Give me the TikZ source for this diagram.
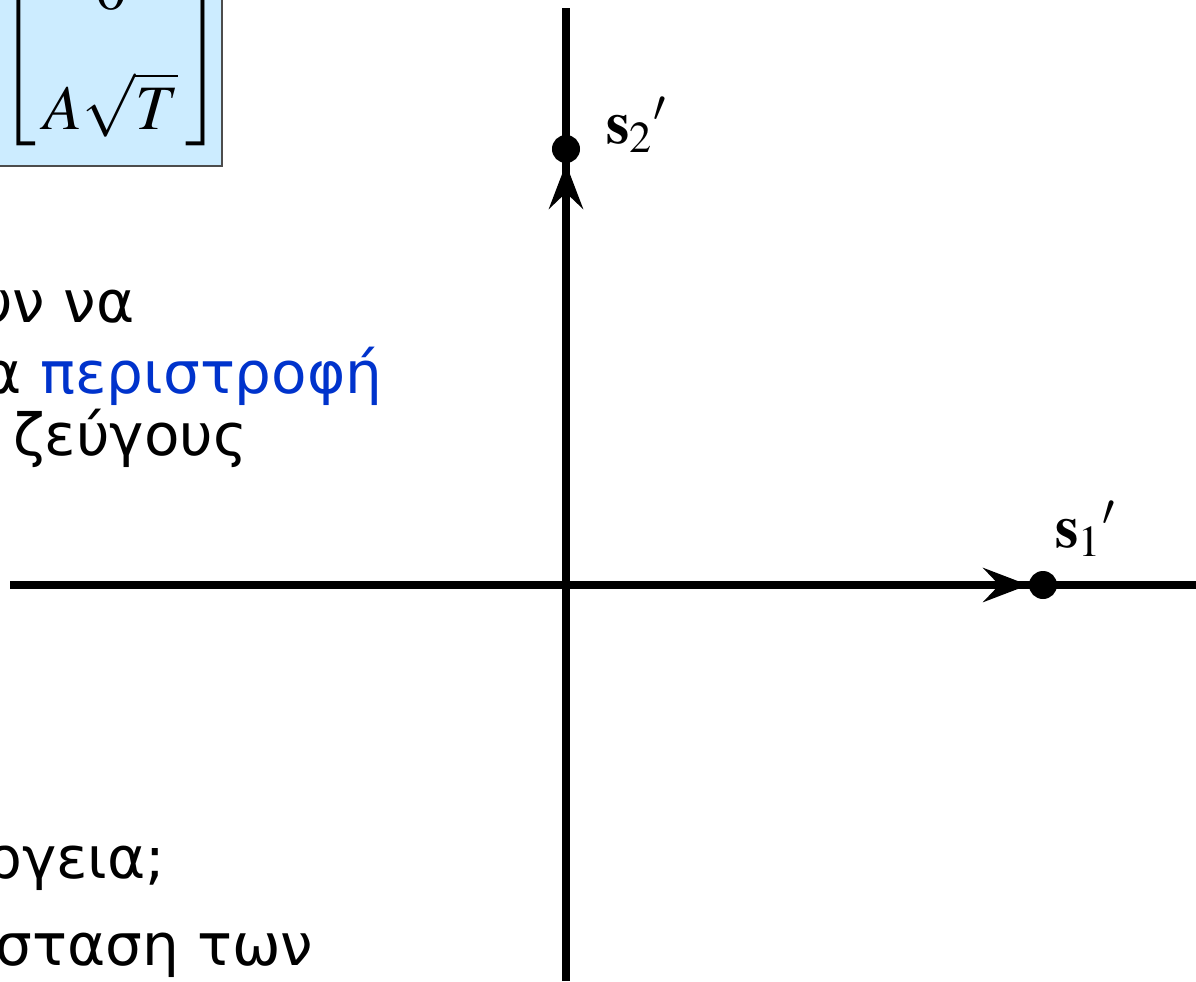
\documentclass[tikz,border=0pt]{standalone}
\usepackage{mathptmx}
\usepackage[no-math]{fontspec}
\newfontfamily\greekfont{DejaVu Sans}
\usepackage{xcolor}
\definecolor{boxblue}{RGB}{204,236,255}
\definecolor{rotblue}{RGB}{0,51,204}
\usepackage{tikz}
\usetikzlibrary{arrows.meta,positioning}

\begin{document}
\begin{tikzpicture}[
    x=0.01cm, y=-0.01cm,
    axis/.style={line width=2pt},
    vec/.style={line width=2pt, -{Stealth[length=0.45cm, width=0.34cm, inset=0.16cm]}},
    dot/.style={circle, fill=black, inner sep=0pt, minimum size=0.28cm},
    lbl/.style={inner sep=0pt, anchor=base west, font=\fontsize{17}{20}\selectfont},
    txt/.style={inner sep=0pt, anchor=base east, font=\greekfont\fontsize{16.5}{20}\selectfont},
    matbox/.style={rectangle, draw=black!70, line width=0.6pt, fill=boxblue, minimum width=2.6cm, minimum height=1.9cm, anchor=south east},
]
\useasboundingbox (0,0) rectangle (1196,981);
\clip (0,0) rectangle (1196,981);

% Signal vector box (cut by the frame)
\node[matbox] (vecbox) at (223,167) {};
\node[inner sep=0pt, anchor=south, font=\fontsize{18}{24}\selectfont] (mat) at (111,152)
    {\setlength\arraycolsep{2pt}$\left[\begin{array}{c}0\\[10pt]A\sqrt{T}\\[-1pt]\end{array}\right]$};

% Text lines (cut at the left)
\node[txt] (t1) at (135,322) {υν να};
\node[txt] (t2) at (383,393) {α \textcolor{rotblue}{περιστροφή}};
\node[txt] (t3) at (248,455) {ζεύγους};
\node[txt] (t4) at (166,878) {ργεια;};
\node[txt] (t5) at (314,965) {οσταση των};

% Axes
\coordinate (O) at (566,585);
\coordinate (xl) at (10,585);
\coordinate (xr) at (1196,585);
\coordinate (yt) at (566,8);
\coordinate (yb) at (566,981);
\draw[axis] (xl) -- (xr);
\draw[axis] (yb) -- (yt);

% Signal points
\node[dot] (s1) at (1043,585) {};
\node[dot] (s2) at (566,149) {};
\draw[vec] (O) -- (s1);
\draw[vec] (O) -- (s2);
\node[lbl] (s1lbl) at (1055,547) {$\mathbf{s}_1{}'$};
\node[lbl] (s2lbl) at (606,143) {$\mathbf{s}_2{}'$};

\end{tikzpicture}
\end{document}
